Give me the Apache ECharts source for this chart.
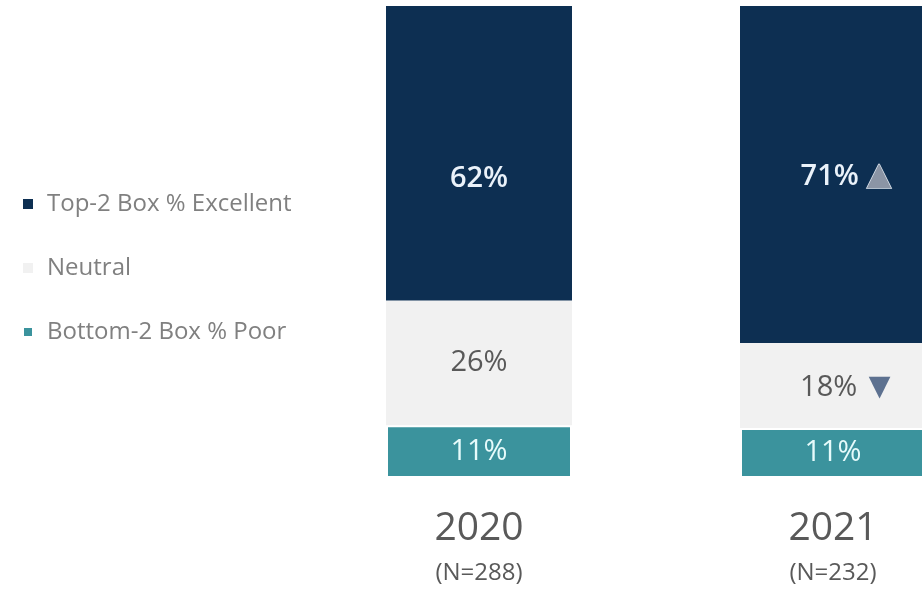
<!DOCTYPE html>
<html>
<head>
<meta charset="utf-8">
<script src="https://cdn.jsdelivr.net/npm/echarts@6/dist/echarts.min.js"></script>
<style>
html,body{margin:0;padding:0;background:#fff;}
#chart{width:922px;height:591px;}
</style>
</head>
<body>
<div id="chart"></div>
<script>
var years = ['2020', '2021'];
var sampleSizes = ['(N=288)', '(N=232)'];
var topBox = [62.4, 71.4];
var neutral = [26.4, 18.0];
var bottomBox = [11.2, 10.6];
var changeMarks = { top: ['', 'up'], neutral: ['', 'down'] };
var seriesNames = ['Top-2 Box % Excellent', 'Neutral', 'Bottom-2 Box % Poor'];

var FONT = '"Open Sans", "Noto Sans", sans-serif';
var chart = echarts.init(document.getElementById('chart'), null, { renderer: 'canvas' });

function pct(v) { return Math.round(v) + '%'; }

function labelFor(markKey, textStyleKey) {
  return function (p) {
    var m = changeMarks[markKey][p.dataIndex];
    var s = '{' + textStyleKey + '|' + pct(p.value) + '}';
    if (m === 'up') s += '{up|▲}';
    if (m === 'down') s += '{down|▼}';
    return s;
  };
}

var option = {
  backgroundColor: '#ffffff',
  animation: false,
  legend: {
    orient: 'vertical',
    left: 17,
    top: 187,
    itemGap: 40,
    itemWidth: 10,
    itemHeight: 10,
    icon: 'rect',
    data: seriesNames,
    textStyle: { color: '#808080', fontSize: 24, fontFamily: FONT, padding: [0, 0, 0, 9] }
  },
  grid: { left: 302, width: 708, top: 6, bottom: 113, outerBoundsMode: 'none', containLabel: false },
  xAxis: {
    type: 'category',
    data: years,
    axisLine: { show: false },
    axisTick: { show: false },
    axisLabel: {
      margin: 26,
      formatter: function (v, i) { return '{y|' + v + '}\n{n|' + sampleSizes[i] + '}'; },
      rich: {
        y: { fontSize: 39, color: '#595959', fontFamily: FONT, lineHeight: 50 },
        n: { fontSize: 24, color: '#595959', fontFamily: FONT, lineHeight: 38 }
      }
    }
  },
  yAxis: { type: 'value', min: 0, max: 100, show: false, splitLine: { show: false } },
  series: [
    {
      name: seriesNames[2], type: 'bar', stack: 'a', barWidth: 186,
      data: bottomBox,
      itemStyle: { color: '#3b939d', borderColor: '#ffffff', borderWidth: 2 },
      label: {
        show: true, position: 'inside', formatter: function (p) { return pct(p.value); },
        color: '#e6fbfb', fontSize: 29, fontFamily: FONT
      }
    },
    {
      name: seriesNames[1], type: 'bar', stack: 'a', barWidth: 186,
      data: neutral.map(function (v, i) {
        return changeMarks.neutral[i] ? { value: v, label: { offset: [16, 2] } } : v;
      }),
      itemStyle: { color: '#f1f1f1' },
      label: {
        show: true, position: 'inside', formatter: labelFor('neutral', 't'),
        rich: {
          t: { color: '#595959', fontSize: 29, fontFamily: FONT },
          down: { color: '#5d7190', fontSize: 37, padding: [0, 0, 0, 4] }
        }
      }
    },
    {
      name: seriesNames[0], type: 'bar', stack: 'a', barWidth: 186,
      data: topBox.map(function (v, i) {
        return changeMarks.top[i] ? { value: v, label: { offset: [17, 2] } } : { value: v, label: { offset: [0, 25] } };
      }),
      itemStyle: { color: '#0d2f52' },
      label: {
        show: true, position: 'inside', formatter: labelFor('top', 't'),
        rich: {
          t: { color: '#eaf2fa', fontSize: 29, fontFamily: FONT, fontWeight: 600 },
          up: { color: '#8b95a5', fontSize: 41, textBorderColor: '#dfe6ee', textBorderWidth: 1.5, padding: [0, 0, 0, 0] }
        }
      }
    }
  ]
};
chart.setOption(option);
</script>
</body>
</html>
